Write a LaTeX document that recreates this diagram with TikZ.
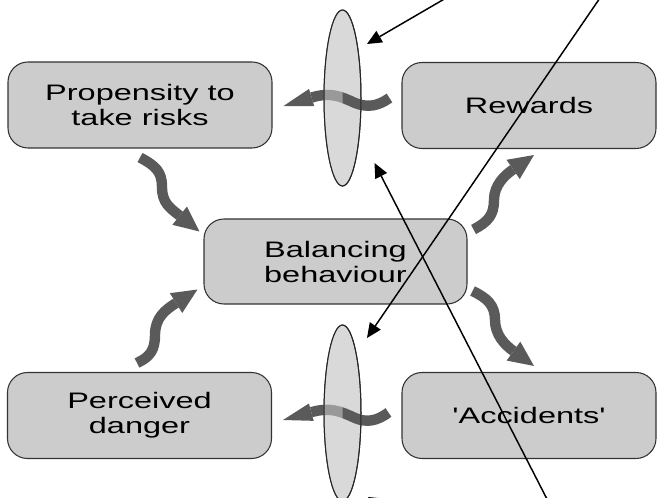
\documentclass[tikz,border=0pt]{standalone}
\usepackage{fontspec}
\usepackage{tikz}
\usetikzlibrary{shapes.geometric,arrows.meta}
\newfontfamily\boxfont[FakeStretch=1.45]{Liberation Sans}
\definecolor{boxgray}{HTML}{CCCCCC}
\definecolor{lensgray}{HTML}{D9D9D9}
\definecolor{wavegray}{HTML}{5A5A5A}

\begin{document}
\begin{tikzpicture}[x=0.75pt,y=-0.75pt,
	box/.style={draw=black!80,line width=0.8pt,fill=boxgray,rounded corners=15pt,minimum width=198pt,minimum height=64.5pt,inner sep=0pt,align=center,font=\boxfont\fontsize{16.8}{18.75}\selectfont},
	lens/.style={ellipse,draw=black!85,line width=0.75pt,fill=lensgray,minimum width=27.75pt,minimum height=132pt,inner sep=0pt,outer sep=0pt},
	wave/.style={draw=wavegray,line width=7.8pt,-{Triangle[length=19pt,width=17.5pt,line width=0pt]}},
	flatwave/.style={draw=wavegray,line width=7.8pt,-{Triangle[length=22pt,width=13.5pt,line width=0pt]}},
	pointer/.style={line width=1.1pt,-{Triangle[length=11pt,width=10pt,line width=0pt]}}]
	\useasboundingbox (0,0) rectangle (657,498);
	\clip (0,0) rectangle (657,498);

	% boxes
	\node[box] (prop) at (140,105) {Propensity to\\take risks};
	\node[box,minimum width=190.5pt] (rew) at (529,105.5) {Rewards};
	\node[box,minimum width=197.25pt,minimum height=63.75pt] (bal) at (335.5,261.5) {Balancing\\behaviour};
	\node[box] (perc) at (139.5,415.5) {Perceived\\danger};
	\node[box,minimum width=190.5pt] (acc) at (529,415.5) {'Accidents'};

	% filters
	\node[lens] (topgate) at (342.5,98) {};
	\node[lens] (botgate) at (342.5,413) {};

	% wavy arrows
	\draw[wave] ([shift={(0,9)}]prop.south) .. controls (156,166) and (162,172) .. (162,187)
		.. controls (162,203) and (170,208) .. ([shift={(-4,-30)}]bal.west);
	\draw[wave] ([shift={(6,11)}]bal.north east) .. controls (488,222) and (494,215) .. (494,200)
		.. controls (494,185) and (505,175) .. ([shift={(5,6)}]rew.south);
	\draw[wave] ([shift={(-2.5,-9)}]perc.north) .. controls (150,357) and (155,350) .. (155,335)
		.. controls (155,318) and (165,310) .. ([shift={(-6,-15)}]bal.south west);
	\draw[wave] ([shift={(5,29.5)}]bal.east) .. controls (487,298) and (495,305) .. (495,320)
		.. controls (495,335) and (505,345) .. ([shift={(5,-6)}]acc.north);
	\draw[flatwave] ([shift={(-12,-7.5)}]rew.west) .. controls (378,106) and (368,108) .. (355,103)
		.. controls (340,96) and (330,92) .. ([shift={(11,1)}]prop.east);
	\draw[flatwave] ([shift={(-13,-3)}]acc.west) .. controls (377,421) and (367,423) .. (355,418)
		.. controls (340,411) and (330,407) .. ([shift={(11,4.5)}]perc.east);

	% arrows pass behind the left half
	\begin{scope}
		\clip (topgate.west |- topgate.north) rectangle (topgate.south);
		\node[lens,draw=none,fill opacity=.5] at (topgate.center) {};
	\end{scope}
	\begin{scope}
		\clip (botgate.west |- botgate.north) rectangle (botgate.south);
		\node[lens,draw=none,fill opacity=.5] at (botgate.center) {};
	\end{scope}
	\node[lens,fill=none] at (topgate.center) {};
	\node[lens,fill=none] at (botgate.center) {};

	% thin pointers
	\coordinate (srcA) at (520,-45);
	\coordinate (srcB) at (626,-40);
	\coordinate (srcC) at (568,540);
	\coordinate (srcD) at (520,585);
	\draw[pointer] (srcA) -- ([shift={(24.5,-54)}]topgate.center);
	\draw[pointer] (srcB) -- ([shift={(24.5,-75)}]botgate.center);
	\draw[pointer] (srcC) -- ([shift={(32,65)}]topgate.center);
	\draw[pointer] (srcD) -- ([shift={(25.5,84)}]botgate.center);
\end{tikzpicture}
\end{document}
